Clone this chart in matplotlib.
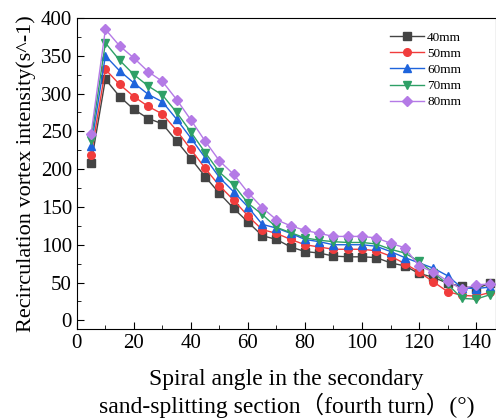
import numpy as np
import matplotlib
matplotlib.use("Agg")
import matplotlib.pyplot as plt
from matplotlib.ticker import MultipleLocator

plt.rcParams['font.family'] = ['Liberation Serif', 'Noto Sans CJK SC', 'DejaVu Sans']

# -----------------------------
# data
# -----------------------------
angle = [5, 10, 15, 20, 25, 30, 35, 40, 45, 50, 55, 60, 65, 70, 75,
         80, 85, 90, 95, 100, 105, 110, 115, 120, 125, 130, 135, 140, 145]

v40 = [208, 319, 296, 279, 267, 260, 237, 214, 190, 168, 148, 130, 112, 107, 97,
       91, 89, 85, 84, 84, 83, 76, 72, 62, 57, 49, 45, 42, 49]
v50 = [219, 332, 312, 296, 283, 273, 251, 226, 201, 178, 159, 138, 120, 115, 107,
       100, 97, 94, 94, 94, 92, 85, 75, 64, 51, 38, 33, 32, 37]
v60 = [230, 350, 330, 314, 299, 289, 266, 241, 215, 189, 170, 150, 127, 122, 115,
       107, 104, 100, 100, 100, 98, 91, 83, 76, 69, 59, 43, 42, 44]
v70 = [239, 367, 344, 325, 310, 298, 275, 249, 222, 196, 179, 155, 140, 123, 116,
       109, 106, 104, 103, 103, 101, 94, 89, 78, 63, 48, 29, 28, 34]
v80 = [247, 385, 363, 347, 329, 316, 292, 265, 237, 211, 193, 169, 149, 133, 125,
       119, 115, 111, 111, 111, 109, 102, 96, 72, 64, 52, 41, 47, 48]

labels = ["40mm", "50mm", "60mm", "70mm", "80mm"]
series = [v40, v50, v60, v70, v80]
colors = ["#444444", "#F03C3C", "#1E64DC", "#2EA066", "#B47AE6"]
markers = ["s", "o", "^", "v", "D"]

fig = plt.figure(figsize=(4.96, 4.18), dpi=100)
ax = fig.add_axes([0.155, 0.212, 0.845, 0.745])

for lab, vals, c, m in zip(labels, series, colors, markers):
    ax.plot(angle, vals, color=c, marker=m, markersize=5.5 if m != "D" else 5,
            linewidth=1.0, label=lab)

ax.set_xlim(0, 147)
ax.set_ylim(-12, 400)
ax.xaxis.set_major_locator(MultipleLocator(20))
ax.xaxis.set_minor_locator(MultipleLocator(10))
ax.yaxis.set_major_locator(MultipleLocator(50))
ax.yaxis.set_minor_locator(MultipleLocator(25))
ax.tick_params(which='both', direction='in', labelsize=15, top=False, right=False)
ax.tick_params(which='major', length=5)
ax.tick_params(which='minor', length=3)

ax.set_xlabel("Spiral angle in the secondary\nsand-splitting section\uff08fourth turn\uff09(\u00b0)",
              fontsize=17, labelpad=11, linespacing=1.15)
ax.set_ylabel("Recirculation vortex intensity(s^-1)", fontsize=16, labelpad=3)

ax.legend(loc='upper right', bbox_to_anchor=(0.945, 0.995), frameon=False,
          fontsize=9.5, handlelength=2.6, labelspacing=0.3, handletextpad=0.2)

fig.savefig("out.png", dpi=100)
